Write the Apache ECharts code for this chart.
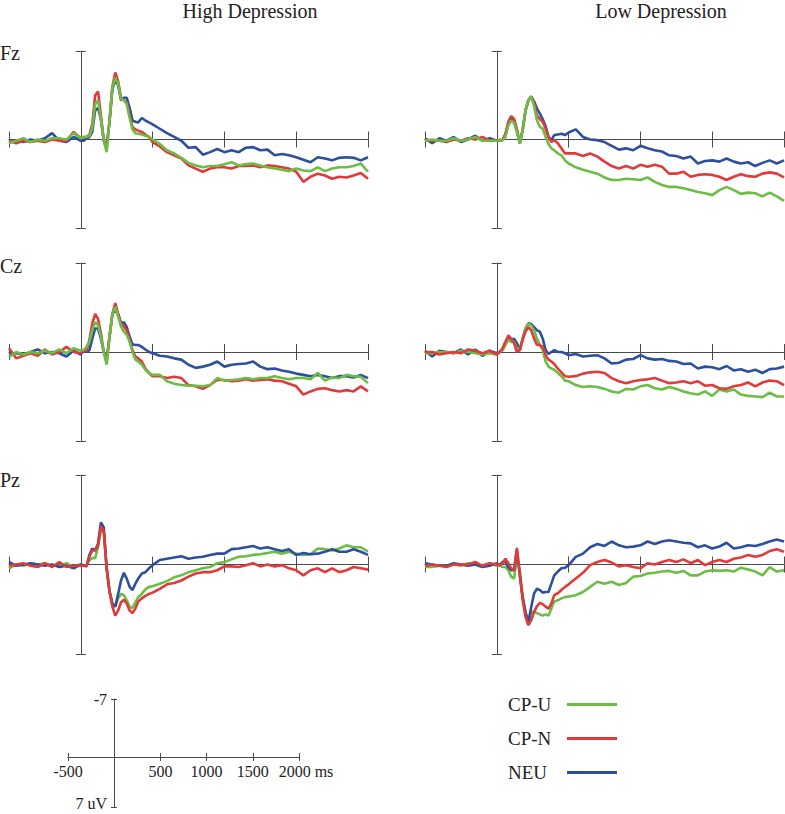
<!DOCTYPE html>
<html>
<head>
<meta charset="utf-8">
<script src="https://cdn.jsdelivr.net/npm/echarts@6/dist/echarts.min.js"></script>
<style>
html,body{margin:0;padding:0;background:#fff;}
#chart{width:785px;height:814px;}
</style>
</head>
<body>
<div id="chart"></div>
<script>
// ---- time axis (ms) ----
const times = [-500,-450,-400,-350,-300,-250,-200,-150,-100,-50,0,
  20,40,60,80,100,120,140,160,180,200,220,240,260,280,300,320,340,360,380,400,
  425,450,475,500,
  550,600,650,700,750,800,850,900,950,1000,1050,1100,1150,1200,1250,1300,1350,1400,1450,1500,1550,1600,1650,1700,1750,1800,1850,1900,1950,2000];

const columnTitles = ['High Depression', 'Low Depression'];
const rowLabels = ['Fz', 'Cz', 'Pz'];
const seriesNames = ['CP-U', 'CP-N', 'NEU'];
const xTicks = [-500, 0, 500, 1000, 1500, 2000];
const yRange = [-7, 7];

// ---- Fz, High Depression (uV) ----
const fzHighCPU = [0.3,0.1,-0.1,0.2,0.0,0.1,-0.1,-0.1,0.0,-0.5,-0.1,
  -0.2,-0.2,-0.3,-0.9,-2.8,-3.1,-1.6,0.1,1.0,-1.5,-4.1,-4.9,-4.4,-3.2,-3.1,-2.8,-1.7,-0.8,-0.5,-0.45,
  -0.4,-0.3,-0.2,0.0,
  0.35,0.85,1.1,1.45,1.85,2.05,2.2,2.1,2.1,1.95,1.8,2.05,1.95,1.9,2.05,2.2,2.3,2.4,2.5,2.3,2.45,2.5,2.2,2.5,2.3,2.2,2.2,2.1,1.9,2.55];
const fzHighCPN = [0.1,0.3,0.1,0.2,0.1,0.2,0.0,0.1,0.1,-0.6,-0.1,
  -0.2,-0.2,-0.4,-1.2,-3.5,-3.8,-1.9,0.1,0.7,-1.5,-4.2,-5.3,-4.6,-3.3,-3.1,-2.9,-1.9,-1.0,-0.8,-0.7,
  -0.6,-0.4,-0.2,0.2,
  0.55,1.0,1.25,1.5,2.05,2.3,2.55,2.3,2.2,2.2,2.3,2.1,2.1,2.05,2.2,2.05,2.1,2.2,2.3,2.55,3.35,2.95,2.7,2.85,3.1,2.95,3.0,2.85,2.65,3.1];
const fzHighNEU = [0.2,0.1,0.2,0.0,0.1,-0.1,-0.5,0.1,0.2,-0.2,0.1,
  0.1,-0.1,-0.2,-0.6,-2.3,-2.5,-1.6,0.1,0.5,-1.4,-4.0,-4.7,-4.3,-3.1,-3.3,-3.3,-2.5,-1.5,-1.4,-1.35,
  -1.7,-1.5,-1.35,-1.2,
  -0.85,-0.5,-0.2,0.1,0.65,0.6,1.2,1.0,0.75,1.0,0.85,1.0,0.65,0.6,0.85,0.8,1.25,1.15,1.25,1.4,1.6,1.8,1.4,1.5,1.65,1.45,1.4,1.45,1.65,1.4];

// ---- Fz, Low Depression ----
const fzLowCPU = [0.1,0.0,0.1,0.1,-0.1,0.1,0.0,-0.2,0.1,0.1,0.1,
  0.05,0.05,-0.2,-1.1,-1.5,-1.3,-0.6,0.3,-0.75,-2.3,-3.1,-3.4,-2.6,-1.5,-1.0,-0.85,-0.2,0.35,0.7,0.85,
  1.1,1.25,1.65,1.9,
  2.2,2.4,2.55,2.7,3.0,3.2,3.2,3.1,3.15,3.2,3.0,3.35,3.6,3.75,3.75,3.85,4.0,4.15,4.25,4.4,4.0,3.75,4.0,4.3,4.2,4.25,4.5,4.2,4.5,4.85];
const fzLowCPN = [0.0,0.1,0.1,0.2,0.0,0.1,-0.1,0.0,-0.2,0.1,0.1,
  0.05,0.05,-0.45,-1.4,-1.85,-1.65,-0.8,0.3,-0.75,-2.3,-3.1,-3.4,-2.85,-1.9,-1.6,-1.4,-0.85,-0.2,0.2,0.05,
  0.3,0.7,1.1,1.1,
  1.1,1.3,1.1,1.35,1.75,2.1,2.3,2.1,2.3,2.0,2.15,2.0,2.15,2.7,2.7,2.55,2.95,2.8,2.75,2.8,2.95,3.2,2.95,2.75,2.9,2.95,2.7,2.6,2.7,3.0];
const fzLowNEU = [-0.1,0.3,-0.1,0.1,-0.2,0.2,0.0,-0.3,0.1,-0.1,0.1,
  0.05,0.05,-0.35,-1.25,-1.75,-1.5,-0.7,0.3,-0.75,-2.3,-3.1,-3.4,-3.0,-2.45,-2.05,-1.6,-1.05,-0.2,0.05,-0.35,
  -0.4,-0.45,-0.35,-0.55,
  -0.8,-0.2,0.0,0.05,0.2,0.5,0.8,0.7,0.85,0.5,0.7,0.85,0.95,1.25,1.3,1.5,1.35,1.9,1.7,1.65,1.75,1.5,1.75,1.9,1.8,2.1,1.85,1.65,1.9,1.65];

// ---- Cz, High Depression ----
const czHighCPU = [0.4,0.0,0.2,0.0,0.1,-0.1,0.1,-0.2,0.1,-0.3,-0.1,
  -0.15,-0.4,-0.8,-1.7,-2.35,-2.1,-1.2,0.0,1.0,-1.2,-3.0,-3.55,-2.8,-2.0,-1.6,-1.35,-0.8,0.0,0.6,0.75,
  1.0,1.4,1.65,1.8,
  1.8,2.3,2.5,2.6,2.65,2.65,2.7,2.6,2.05,2.25,2.2,2.15,2.05,2.15,2.05,2.05,1.9,2.05,2.15,2.05,2.05,2.15,1.65,2.25,2.0,2.05,1.8,1.9,1.95,2.45];
const czHighCPN = [-0.3,0.5,0.3,0.1,0.3,-0.2,0.2,0.0,-0.4,0.0,0.1,
  -0.15,-0.1,-0.95,-2.25,-3.0,-2.6,-1.45,0.0,0.75,-1.2,-3.0,-3.85,-3.0,-2.25,-2.0,-1.7,-0.95,-0.15,0.35,0.5,
  0.75,1.3,1.65,1.9,
  1.9,2.05,1.95,2.05,2.6,2.7,2.9,2.6,2.2,2.2,2.3,2.25,2.15,2.25,2.2,2.15,2.25,2.3,2.5,2.7,3.35,3.1,2.9,2.85,3.0,3.1,3.0,3.1,2.7,3.1];
const czHighNEU = [0.1,0.1,0.2,0.0,-0.2,0.1,0.0,0.1,0.35,-0.1,0.2,
  -0.15,0.0,-0.15,-1.05,-1.85,-1.85,-1.05,0.0,0.6,-1.2,-3.0,-3.3,-3.0,-2.25,-2.35,-1.95,-1.2,-0.6,-0.55,-0.55,
  -0.4,-0.2,0.0,0.1,
  0.3,0.35,0.5,0.6,1.0,1.25,1.15,1.0,0.75,1.15,1.0,0.95,0.9,0.75,1.15,1.35,1.3,1.45,1.55,1.7,1.8,1.9,1.8,1.9,2.05,1.9,1.9,2.0,1.8,2.05];

// ---- Cz, Low Depression ----
const czLowCPU = [0.1,0.1,0.0,0.0,0.1,-0.1,0.0,0.1,0.2,0.1,0.2,
  0.0,-0.15,-0.55,-0.95,-0.8,-0.8,-0.3,-0.15,-1.05,-1.85,-2.2,-2.1,-1.7,-1.05,-0.55,-0.15,0.75,1.15,1.3,1.4,
  1.65,1.9,2.25,2.3,
  2.6,2.75,2.7,2.75,2.9,3.1,3.2,2.9,2.95,2.7,2.6,2.85,2.95,2.75,2.9,3.1,3.25,3.35,3.1,3.45,2.95,3.1,2.95,3.35,3.45,3.5,3.55,3.2,3.5,3.5];
const czLowCPN = [0.0,0.0,0.2,0.1,0.0,0.1,-0.2,-0.1,0.1,-0.1,0.2,
  0.0,-0.3,-0.8,-1.3,-1.05,-0.7,0.0,-0.15,-0.95,-1.6,-1.95,-1.7,-1.05,-0.55,-0.55,-0.4,0.25,0.6,0.75,0.95,
  1.3,1.6,1.9,1.95,
  1.9,1.7,1.6,1.55,1.65,2.05,2.3,2.45,2.3,2.2,2.15,2.05,2.25,2.45,2.4,2.3,2.45,2.3,2.65,2.6,2.85,2.9,2.7,2.6,2.4,2.7,2.4,2.25,2.3,2.6];
const czLowNEU = [-0.1,0.35,-0.1,0.0,0.1,-0.2,0.2,-0.2,0.3,-0.1,0.1,
  0.0,-0.15,-0.7,-1.05,-0.95,-1.05,-0.7,-0.15,-1.05,-1.85,-2.25,-2.2,-1.95,-1.7,-1.6,-1.05,-0.15,0.15,0.0,-0.15,
  0.0,0.0,0.1,0.25,
  0.15,0.35,0.3,0.25,0.5,0.9,0.85,0.6,0.55,0.25,0.5,0.6,0.55,0.7,0.75,0.95,0.9,1.3,1.15,1.2,1.35,1.1,1.45,1.35,1.55,1.4,1.65,1.35,1.3,1.15];

// ---- Pz, High Depression ----
const pzHighCPU = [0.3,0.0,0.1,-0.1,0.0,-0.1,0.1,0.1,-0.1,0.2,0.0,
  0.1,0.05,-0.35,-0.5,-0.5,-1.35,-2.7,-2.5,0.3,2.1,3.05,3.3,2.65,2.3,2.4,2.8,3.3,3.4,2.95,2.55,
  2.3,1.95,1.75,1.7,
  1.5,1.3,1.0,0.85,0.6,0.45,0.3,0.2,-0.1,-0.2,-0.4,-0.6,-0.65,-0.75,-0.8,-0.9,-1.0,-0.85,-1.0,-0.85,-0.75,-0.8,-1.25,-1.2,-1.1,-1.25,-1.5,-1.35,-1.35,-1.0];
const pzHighCPN = [0.1,0.0,-0.1,0.1,0.2,-0.1,0.2,-0.2,0.2,0.1,0.1,
  0.1,0.15,-0.6,-1.1,-1.1,-1.5,-3.0,-2.6,0.3,2.1,3.3,4.0,3.6,2.95,2.75,3.05,3.6,3.8,3.45,2.9,
  2.65,2.45,2.3,2.2,
  1.9,1.55,1.45,1.25,0.95,0.7,0.6,0.6,0.45,0.15,0.15,0.2,0.05,-0.1,0.15,0.0,0.15,0.05,0.3,0.45,0.85,0.45,0.3,0.6,0.3,0.6,0.45,0.2,0.3,0.4];
const pzHighNEU = [-0.2,0.1,0.0,-0.1,0.0,0.1,0.0,0.2,0.1,0.3,0.0,
  0.1,0.1,-0.75,-1.25,-1.1,-1.65,-3.3,-2.9,0.3,2.1,3.05,3.3,2.3,1.25,0.65,1.1,1.75,2.0,1.5,1.1,
  0.7,0.6,0.3,0.05,
  -0.35,-0.45,-0.55,-0.65,-0.45,-0.55,-0.6,-0.75,-0.85,-0.85,-1.2,-1.25,-1.35,-1.45,-1.25,-1.35,-1.2,-1.05,-1.2,-0.75,-0.9,-0.8,-0.85,-1.0,-1.2,-1.0,-1.0,-1.2,-1.0,-0.75];

// ---- Pz, Low Depression ----
const pzLowCPU = [0.2,0.2,0.1,0.1,0.0,0.1,-0.1,0.0,0.1,-0.1,0.1,
  0.05,0.2,0.2,0.45,0.95,1.1,-0.6,0.45,2.55,3.85,4.65,3.7,3.7,3.8,3.9,4.0,3.9,4.0,3.45,2.9,
  2.8,2.65,2.55,2.5,
  2.4,2.15,1.75,1.35,1.5,1.35,1.6,1.45,0.95,0.9,0.7,0.65,0.55,0.5,0.65,0.5,0.85,0.85,0.55,0.45,0.5,0.45,0.55,0.25,0.4,0.55,0.85,0.2,0.55,0.45];
const pzLowCPN = [0.1,0.0,0.1,0.2,0.0,0.0,0.0,-0.2,0.1,-0.1,0.0,
  0.05,-0.1,-0.45,-0.1,0.3,0.45,-1.3,0.7,2.8,4.1,4.75,4.35,3.7,3.25,3.0,3.1,3.3,3.45,3.05,2.4,
  2.25,2.0,1.75,1.55,
  1.1,0.65,0.05,-0.2,-0.35,-0.15,0.15,0.05,0.2,0.3,-0.1,0.0,-0.2,-0.35,-0.2,-0.4,-0.1,-0.35,0.05,-0.2,-0.35,-0.2,-0.45,-0.55,-0.75,-0.6,-0.75,-1.05,-1.2,-1.0];
const pzLowNEU = [-0.1,0.0,0.1,0.1,-0.1,0.0,0.1,0.0,0.2,0.1,-0.1,
  0.05,-0.2,-0.2,0.2,0.45,0.45,-1.1,0.85,2.55,3.7,4.5,3.3,2.25,1.9,2.0,2.2,2.15,2.15,1.5,0.85,
  0.55,0.3,0.25,0.05,
  -0.6,-0.85,-1.35,-1.6,-1.45,-1.8,-1.5,-1.35,-1.4,-1.5,-1.8,-1.6,-1.8,-1.9,-1.8,-1.7,-1.65,-1.35,-1.5,-1.25,-1.4,-1.7,-1.25,-1.35,-1.5,-1.45,-1.6,-1.8,-1.95,-1.8];

// ---------------- chart construction ----------------
const COLORS = {'CP-U': '#6cbd45', 'CP-N': '#e23a3a', 'NEU': '#2c4f9e'};
const AXIS_COLOR = '#4a4a4a';
const TEXT_COLOR = '#222';
const SERIF = "'Liberation Serif', serif";

const panels = [
  {row:0, col:0, data:{'CP-U':fzHighCPU,'CP-N':fzHighCPN,'NEU':fzHighNEU}, order:['NEU','CP-N','CP-U']},
  {row:0, col:1, data:{'CP-U':fzLowCPU,'CP-N':fzLowCPN,'NEU':fzLowNEU}, order:['NEU','CP-N','CP-U']},
  {row:1, col:0, data:{'CP-U':czHighCPU,'CP-N':czHighCPN,'NEU':czHighNEU}, order:['NEU','CP-N','CP-U']},
  {row:1, col:1, data:{'CP-U':czLowCPU,'CP-N':czLowCPN,'NEU':czLowNEU}, order:['NEU','CP-U','CP-N']},
  {row:2, col:0, data:{'CP-U':pzHighCPU,'CP-N':pzHighCPN,'NEU':pzHighNEU}, order:['CP-U','NEU','CP-N']},
  {row:2, col:1, data:{'CP-U':pzLowCPU,'CP-N':pzLowCPN,'NEU':pzLowNEU}, order:['CP-U','NEU','CP-N']}
];

const colLeft = [9, 425];
const colWidth = 359;
const rowTop = [51, 263, 475];
const rowHeight = [177, 178, 179];

const grids = [], xAxes = [], yAxes = [], series = [];
const tickStyle = {color: AXIS_COLOR, width: 1};

function xAxisPair(g, o) {
  const base = {gridIndex: g, type: 'value', min: o.min, max: o.max, interval: 500,
    position: 'bottom', splitLine: {show:false}};
  const i = xAxes.length;
  xAxes.push(Object.assign({}, base, {
    axisLine: {show:true, onZero: o.onZero, onZeroAxisIndex: o.onZeroAxisIndex, lineStyle:{color:AXIS_COLOR, width:1}},
    axisTick: {show:true, inside:false, length:o.tick, lineStyle:tickStyle},
    axisLabel: o.label || {show:false}
  }));
  xAxes.push(Object.assign({}, base, {
    axisLine: {show:false, onZero: o.onZero, onZeroAxisIndex: o.onZeroAxisIndex},
    axisTick: {show:true, inside:true, length:o.tick, lineStyle:tickStyle},
    axisLabel: {show:false}
  }));
  return i;
}
function yAxisPair(g, o) {
  const base = {gridIndex: g, type: 'value', min: o.min, max: o.max, interval: 7, inverse: true,
    position: 'left', splitLine: {show:false}};
  const i = yAxes.length;
  yAxes.push(Object.assign({}, base, {
    axisLine: {show:true, onZero: o.onZero, onZeroAxisIndex: o.onZeroAxisIndex, lineStyle:{color:AXIS_COLOR, width:1}},
    axisTick: Object.assign({show:true, inside:false, length:o.tick, lineStyle:tickStyle}, o.tickExtra || {}),
    axisLabel: o.label || {show:false}
  }));
  yAxes.push(Object.assign({}, base, {
    axisLine: {show:false, onZero: o.onZero, onZeroAxisIndex: o.onZeroAxisIndex},
    axisTick: Object.assign({show:true, inside:true, length:o.tick, lineStyle:tickStyle}, o.tickExtra || {}),
    axisLabel: {show:false}
  }));
  return i;
}

panels.forEach((p, g) => {
  grids.push({left: colLeft[p.col], top: rowTop[p.row], width: colWidth, height: rowHeight[p.row],
    containLabel:false, outerBoundsMode:'none'});
  const xi = xAxes.length, yi = yAxes.length;
  xAxisPair(g, {min: xTicks[0], max: xTicks[xTicks.length-1], tick: 8, onZero: true, onZeroAxisIndex: yi});
  yAxisPair(g, {min: yRange[0], max: yRange[1], tick: 5, onZero: true, onZeroAxisIndex: xi});
  p.order.forEach(name => {
    const vals = p.data[name];
    if (vals.length !== times.length) console.error('length mismatch', g, name, vals.length);
    series.push({
      name: name, type: 'line', xAxisIndex: xi, yAxisIndex: yi,
      data: times.map((t, i) => [t, vals[i]]),
      showSymbol: false, symbol: 'none', smooth: false,
      color: COLORS[name],
      lineStyle: {color: COLORS[name], width: 2.6},
      emphasis: {disabled: true}, silent: true, animation: false, z: 3
    });
  });
});

// ---- scale bar (bottom left): horizontal part ----
const gA = grids.length;
grids.push({left: 68, top: 699, width: 231, height: 58, containLabel:false, outerBoundsMode:'none'});
xAxisPair(gA, {min: xTicks[0], max: xTicks[xTicks.length-1], tick: 4, onZero: false,
  label: {show:true, margin: 6, color: TEXT_COLOR, fontFamily: SERIF, fontSize: 16,
    formatter: v => v === 0 ? '' : (v === 2000 ? '{m|2000 ms}' : String(v)),
    rich: {m: {fontFamily: SERIF, fontSize: 16, color: TEXT_COLOR, padding: [0, 0, 0, 14]}}}});
yAxes.push({gridIndex: gA, type:'value', min: yRange[0], max: 0, inverse: true, show: false});

// ---- scale bar: vertical part ----
const gC = grids.length;
grids.push({left: 114, top: 699, width: 185, height: 108, containLabel:false, outerBoundsMode:'none'});
xAxes.push({gridIndex: gC, type:'value', min: 0, max: 2000, show: false});
yAxisPair(gC, {min: yRange[0], max: yRange[1], tick: 3, onZero: false,
  tickExtra: {customValues: [yRange[0], yRange[1]]},
  label: {show:true, margin: 7, color: TEXT_COLOR, fontFamily: SERIF, fontSize: 16,
    customValues: [yRange[0], yRange[1]],
    formatter: v => v === yRange[0] ? '{t|-7}' : '{b|7 uV}',
    rich: {
      t: {fontFamily: SERIF, fontSize: 16, color: TEXT_COLOR},
      b: {fontFamily: SERIF, fontSize: 16, color: TEXT_COLOR, padding: [0, 0, 7, 0]}
    }}});

const graphics = [];
columnTitles.forEach((t, i) => {
  graphics.push({type:'text', x: [250, 661][i], y: 11, silent:true,
    style:{text:t, font:"20px 'Liberation Serif', serif", fill:TEXT_COLOR, align:'center', verticalAlign:'middle'}});
});
rowLabels.forEach((t, i) => {
  graphics.push({type:'text', x: 0, y: [53, 266, 480][i], silent:true,
    style:{text:t, font:"20px 'Liberation Serif', serif", fill:TEXT_COLOR, align:'left', verticalAlign:'middle'}});
});

const chart = echarts.init(document.getElementById('chart'), null, {renderer:'svg', width:785, height:814});
chart.setOption({
  backgroundColor: '#fff',
  animation: false,
  grid: grids,
  xAxis: xAxes,
  yAxis: yAxes,
  series: series,
  graphic: graphics,
  legend: {
    data: seriesNames,
    orient: 'vertical', left: 508, top: 695, padding: 0,
    align: 'right', icon: 'rect', itemWidth: 50, itemHeight: 3, itemGap: 15,
    selectedMode: false,
    formatter: name => '{a|' + name + '}',
    textStyle: {
      color: TEXT_COLOR, fontFamily: SERIF, fontSize: 19,
      rich: {a: {width: 54, align: 'left', color: TEXT_COLOR, fontFamily: SERIF, fontSize: 19, lineHeight: 20}}
    }
  }
});
</script>
</body>
</html>
